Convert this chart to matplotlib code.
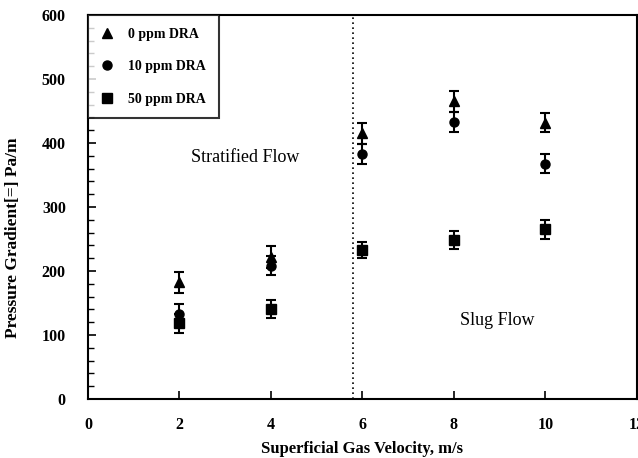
import matplotlib
matplotlib.use("Agg")
import matplotlib.pyplot as plt
from matplotlib.ticker import MultipleLocator

velocity = [2, 4, 6, 8, 10]
dra_0 = [182, 222, 415, 465, 432]
dra_10 = [133, 208, 383, 433, 368]
dra_50 = [118, 140, 233, 248, 265]
err_0 = [16, 17, 17, 17, 15]
err_10 = [15, 15, 15, 15, 15]
err_50 = [15, 14, 13, 14, 15]
labels = ["0 ppm DRA", "10 ppm DRA", "50 ppm DRA"]
boundary_x = 5.8

plt.rcParams['font.family'] = ['Liberation Serif', 'DejaVu Serif']

fig = plt.figure(figsize=(6.38, 4.58), dpi=100)
ax = fig.add_axes([0.138, 0.129, 0.860, 0.838])

markers = ['^', 'o', 's']
for y, e, m, lab in zip([dra_0, dra_10, dra_50], [err_0, err_10, err_50], markers, labels):
    ax.errorbar(velocity, y, yerr=e, fmt=m, color='black', ms=6.5, capsize=3.5,
                elinewidth=1.5, capthick=1.5, label=lab)

ax.axvline(boundary_x, color='black', linestyle=(0, (1, 2)), lw=1.2)

ax.text(3.43, 377, "Stratified Flow", ha='center', va='center', fontsize=13)
ax.text(8.94, 123, "Slug Flow", ha='center', va='center', fontsize=13)

ax.set_xlim(0, 12)
ax.set_ylim(0, 600)
ax.xaxis.set_major_locator(MultipleLocator(2))
ax.yaxis.set_major_locator(MultipleLocator(100))
ax.yaxis.set_minor_locator(MultipleLocator(20))
ax.tick_params(axis='both', which='both', direction='in', right=False, top=False)
ax.tick_params(axis='both', which='major', length=6, width=1.2, labelsize=11.5)
ax.tick_params(axis='x', which='major', pad=13)
ax.tick_params(axis='y', which='major', pad=16)
ax.tick_params(axis='y', which='minor', length=4, width=1)
for lbl in ax.get_xticklabels() + ax.get_yticklabels():
    lbl.set_fontweight('bold')
for s in ax.spines.values():
    s.set_linewidth(1.5)

ax.set_xlabel("Superficial Gas Velocity, m/s", fontsize=12, fontweight='bold')
ax.xaxis.set_label_coords(0.5, -0.11)
ax.set_ylabel("Pressure Gradient[=] Pa/m", fontsize=12.5, fontweight='bold')
ax.yaxis.set_label_coords(-0.122, 0.42)

handles, labs = ax.get_legend_handles_labels()
handles = [h[0] for h in handles]
leg = ax.legend(handles, labs, loc='upper left', frameon=True, fancybox=False,
                edgecolor='black', prop={'weight': 'bold', 'size': 10},
                borderaxespad=0, labelspacing=1.4, handletextpad=1.0,
                borderpad=0.9, handlelength=1.0)
leg.get_frame().set_linewidth(1.5)

fig.savefig("out.png", dpi=100)
